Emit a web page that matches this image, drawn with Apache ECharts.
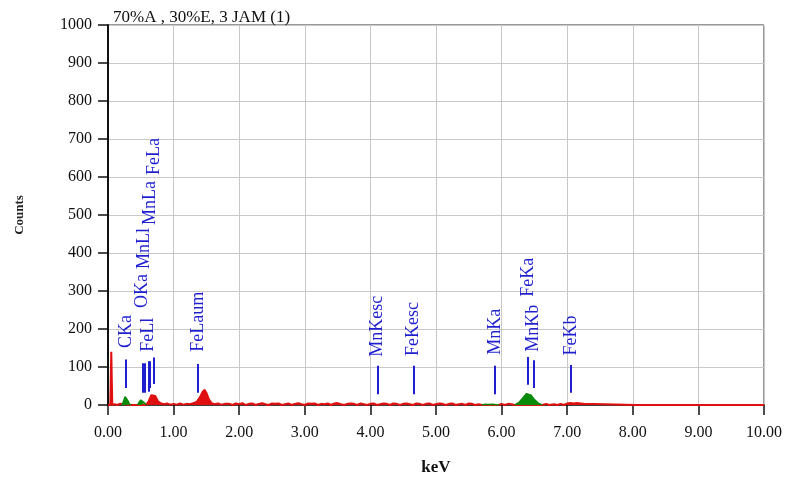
<!DOCTYPE html>
<html>
<head>
<meta charset="utf-8">
<script src="https://cdn.jsdelivr.net/npm/echarts@6/dist/echarts.min.js"></script>
<style>
html,body{margin:0;padding:0;background:#fff;}
#chart{width:787px;height:479px;}
</style>
</head>
<body>
<div id="chart"></div>
<script>
// ---- data ----
var chartTitle = '70%A , 30%E, 3 JAM (1)';
var xTicks = [0,1,2,3,4,5,6,7,8,9,10];
var yTicks = [0,100,200,300,400,500,600,700,800,900,1000];

// red spectrum [keV, counts]
var redSpectrum = [
 [0.00,0],[0.035,0],[0.05,140],[0.065,0],[0.10,2],[0.14,0],[0.18,3],[0.21,0],
 [0.35,0],[0.37,2],[0.40,0],[0.43,2],[0.45,0],
 [0.58,0],[0.60,4],[0.62,10],[0.66,26],[0.69,31],[0.72,24],[0.76,10],[0.80,5],[0.85,2],
 [0.90,4],[0.95,1],[1.00,3],[1.05,1],[1.10,4],[1.15,1],[1.20,3],[1.25,2],[1.30,5],
 [1.35,8],[1.40,20],[1.44,34],[1.47,40],[1.50,32],[1.54,14],[1.58,5],[1.62,2],[1.68,4],
 [1.72,1],[1.78,3],
 [1.80,4],[1.85,3],[1.90,0],[1.95,4],[2.00,2],[2.05,5],[2.10,0],[2.15,3],[2.20,4],[2.25,0],
 [2.30,3],[2.35,5],[2.40,2],[2.45,0],[2.50,4],[2.55,3],[2.60,4],[2.65,0],[2.70,2],[2.75,4],
 [2.80,0],[2.85,3],[2.90,5],[2.95,2],[3.00,0],[3.05,4],[3.10,3],[3.15,4],[3.20,0],[3.25,3],
 [3.30,2],[3.35,4],[3.40,0],[3.45,4],[3.50,5],[3.55,2],[3.60,0],[3.65,3],[3.70,4],[3.75,3],
 [3.80,0],[3.85,4],[3.90,2],[3.95,0],[4.00,3],[4.05,4],[4.10,0],[4.15,2],[4.20,4],[4.25,3],
 [4.30,0],[4.35,4],[4.40,3],[4.45,0],[4.50,3],[4.55,4],[4.60,2],[4.65,0],[4.70,4],[4.75,3],
 [4.80,0],[4.85,3],[4.90,4],[4.95,0],[5.00,2],[5.05,4],[5.10,3],[5.15,0],[5.20,3],[5.25,4],
 [5.30,0],[5.35,2],[5.40,3],[5.45,0],[5.50,4],[5.55,3],[5.60,0],[5.65,2],[5.70,0],
 [5.96,0],[6.00,3],[6.05,0],[6.10,3],[6.15,2],[6.20,0],
 [6.62,0],[6.68,3],[6.72,0],[6.80,2],[6.85,0],[6.90,3],[6.95,0],[7.00,4],[7.05,5],[7.10,4],
 [7.15,5],[7.20,4],[7.25,3],[7.28,0],
 [8.05,0],[8.07,3],[8.09,0],[8.13,0],[8.15,3],[8.17,0],
 [9.18,0],[9.20,3],[9.22,0],[9.43,0],[9.45,3],[9.47,0],[9.70,0],[9.72,4],[9.74,0],[10.00,0]
];

// green (identified peak) regions [keV, counts]
var greenCKa  = [[0.21,0],[0.23,6],[0.26,22],[0.28,24],[0.30,12],[0.33,2],[0.35,0]];
var greenOKa  = [[0.45,0],[0.47,6],[0.50,13],[0.53,11],[0.56,5],[0.58,0]];
var greenMnKa = [[5.70,0],[5.75,2],[5.80,1],[5.85,2],[5.90,1],[5.96,0]];
var greenFeKa = [[6.20,0],[6.26,6],[6.32,18],[6.38,30],[6.41,33],[6.45,26],[6.50,14],[6.56,5],[6.62,0]];

// element marker lines: name, keV, line bottom, line top, label base (counts)
var markerNames  = ['CKa','OKa','MnLl','FeLl','MnLa','FeLa','FeLaum','MnKesc','FeKesc','MnKa','FeKa','MnKb','FeKb'];
var markerKeV    = [0.277,0.525,0.556,0.615,0.637,0.705,1.37,4.11,4.66,5.90,6.40,6.49,7.06];
var markerLow    = [45,32,32,35,45,55,32,28,28,28,53,45,32];
var markerHigh   = [120,110,110,115,115,125,108,103,103,103,126,118,105];
var markerLabelY = [150,255,358,140,474,605,140,127,129,132,285,140,130];

// ---- chart ----
var FONT = '"Liberation Serif","Times New Roman",serif';
var BLUE = '#1f1fd0';
var RED = '#e01010';
var GREEN = '#0a8a0a';

var markLineData = markerNames.map(function(n, i){
  return [{coord:[markerKeV[i], markerLow[i]]},{coord:[markerKeV[i], markerHigh[i]]}];
});
var labelData = markerNames.map(function(n, i){
  return {value:[markerKeV[i], markerLabelY[i]], name:n};
});

function greenSeries(d){
  return {type:'line', data:d, symbol:'none', silent:true, z:3,
    lineStyle:{color:GREEN, width:1.5}, areaStyle:{color:GREEN, opacity:1}};
}

var chart = echarts.init(document.getElementById('chart'), null, {renderer:'canvas'});
chart.setOption({
  animation:false,
  backgroundColor:'#fff',
  title:{text:chartTitle, left:108, top:4,
    textStyle:{fontFamily:FONT, fontSize:17, fontWeight:'normal', color:'#111'}},
  grid:{left:108, right:23, top:25, bottom:74, containLabel:false, outerBoundsMode:'none',
    show:true, borderColor:'#333', borderWidth:1, backgroundColor:'transparent'},
  xAxis:{type:'value', min:0, max:10, interval:1,
    name:'keV', nameLocation:'middle', nameGap:54,
    nameTextStyle:{fontFamily:FONT, fontSize:17, fontWeight:'bold', color:'#111'},
    axisLine:{show:true, lineStyle:{color:'#111', width:1.5}},
    axisTick:{show:true, length:10, lineStyle:{color:'#111', width:1.5}},
    axisLabel:{fontFamily:FONT, fontSize:16, color:'#111', margin:20,
      formatter:function(v){return v.toFixed(2);}},
    splitLine:{show:true, lineStyle:{color:'#c8c8c8', width:1}}
  },
  yAxis:{type:'value', min:0, max:1000, interval:100,
    name:'Counts', nameLocation:'middle', nameGap:82, nameRotate:90,
    nameTextStyle:{fontFamily:FONT, fontSize:13, fontWeight:'bold', color:'#222'},
    axisLine:{show:true, lineStyle:{color:'#111', width:2}},
    axisTick:{show:true, length:10, lineStyle:{color:'#111', width:1.5}},
    axisLabel:{fontFamily:FONT, fontSize:16, color:'#111', margin:16,
      formatter:function(v){return String(v);}},
    splitLine:{show:true, lineStyle:{color:'#c8c8c8', width:1}}
  },
  series:[
    {type:'line', data:redSpectrum, symbol:'none', silent:true, z:2,
      lineStyle:{color:RED, width:2}, areaStyle:{color:RED, opacity:1}},
    greenSeries(greenCKa), greenSeries(greenOKa), greenSeries(greenMnKa), greenSeries(greenFeKa),
    {type:'scatter', data:labelData, symbolSize:0, silent:true, z:5,
      itemStyle:{color:BLUE, opacity:1},
      label:{show:true, position:'inside', rotate:90, align:'left', verticalAlign:'middle',
        formatter:function(p){return p.name;}, opacity:1,
        fontFamily:FONT, fontSize:18, color:BLUE, textBorderWidth:0, textShadowBlur:0},
      markLine:{silent:true, symbol:['none','none'], label:{show:false},
        lineStyle:{color:BLUE, width:2, type:'solid', opacity:1}, data:markLineData}
    }
  ]
});
</script>
</body>
</html>
